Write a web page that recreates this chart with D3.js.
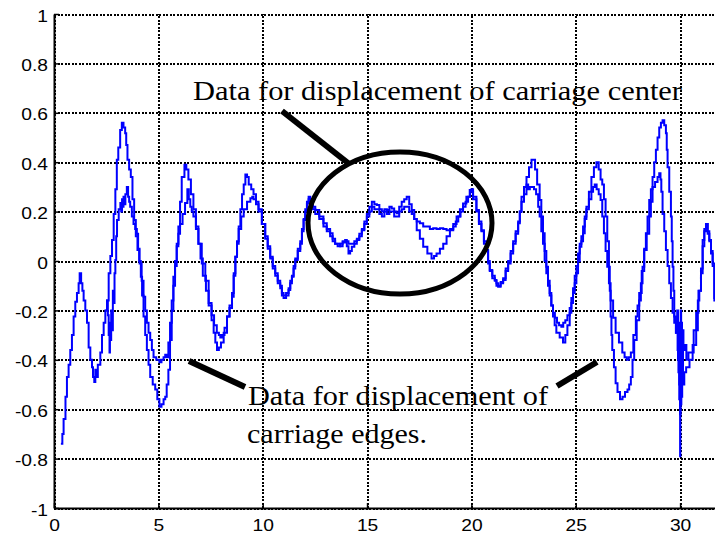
<!DOCTYPE html>
<html><head><meta charset="utf-8">
<script src="https://cdn.jsdelivr.net/npm/d3@7"></script>
<style>
html,body{margin:0;padding:0;background:#fff;}
svg{display:block;}
</style></head>
<body>
<svg id="chart" width="715" height="535"></svg>
<script>
// ---------- data ----------
const xTicks = [0, 5, 10, 15, 20, 25, 30];
const xTickLabels = ["0", "5", "10", "15", "20", "25", "30"];
const yTicks = [-1, -0.8, -0.6, -0.4, -0.2, 0, 0.2, 0.4, 0.6, 0.8, 1];
const yTickLabels = ["-1", "-0.8", "-0.6", "-0.4", "-0.2", "0", "0.2", "0.4", "0.6", "0.8", "1"];

// outer trace (larger amplitude edge data)
const outerX = [0.33,0.40,0.46,0.55,0.62,0.70,0.78,0.86,0.94,1.02,1.10,1.18,1.23,1.30,1.36,1.42,1.50,1.58,1.66,1.74,1.82,1.87,1.93,1.98,2.04,2.10,2.22,2.30,2.38,2.46,2.54,2.62,2.70,2.78,2.86,2.94,3.01,3.08,3.17,3.25,3.33,3.41,3.46,3.52,3.60,3.68,3.76,3.84,3.92,4.00,4.08,4.16,4.22,4.29,4.37,4.45,4.53,4.61,4.73,4.85,4.95,5.05,5.15,5.25,5.33,5.40,5.48,5.56,5.64,5.72,5.80,5.88,5.96,6.04,6.12,6.25,6.34,6.44,6.56,6.68,6.80,6.92,7.08,7.25,7.41,7.55,7.65,7.73,7.81,7.90,8.00,8.13,8.29,8.41,8.53,8.61,8.69,8.77,8.85,8.93,9.01,9.09,9.17,9.25,9.33,9.45,9.56,9.68,9.80,9.96,10.12,10.24,10.36,10.48,10.60,10.72,10.84,10.92,11.00,11.12,11.24,11.32,11.40,11.48,11.56,11.68,11.80,11.88,11.96,12.04,12.12,12.20,12.28,12.40,12.52,12.71,12.91,13.07,13.23,13.35,13.47,13.59,13.71,13.83,13.95,14.03,14.11,14.19,14.27,14.39,14.51,14.63,14.75,14.87,14.99,15.11,15.23,15.35,15.47,15.59,15.71,15.83,15.95,16.07,16.18,16.30,16.42,16.54,16.66,16.78,16.90,17.02,17.14,17.26,17.38,17.53,17.69,17.89,18.09,18.21,18.33,18.49,18.65,18.81,18.97,19.13,19.29,19.45,19.60,19.76,19.92,20.00,20.08,20.24,20.36,20.48,20.60,20.72,20.80,20.88,21.00,21.12,21.20,21.28,21.40,21.52,21.64,21.76,21.88,22.00,22.12,22.24,22.32,22.40,22.52,22.64,22.76,22.88,22.96,23.05,23.15,23.27,23.35,23.43,23.51,23.59,23.67,23.75,23.83,23.91,23.99,24.07,24.23,24.39,24.50,24.60,24.71,24.79,24.87,24.95,25.03,25.11,25.19,25.27,25.35,25.43,25.51,25.63,25.75,25.87,25.99,26.10,26.19,26.27,26.35,26.43,26.51,26.59,26.63,26.67,26.71,26.75,26.83,26.91,27.00,27.12,27.24,27.36,27.48,27.56,27.64,27.72,27.80,27.92,28.04,28.12,28.20,28.28,28.36,28.44,28.52,28.60,28.68,28.76,28.84,28.92,29.00,29.08,29.16,29.24,29.32,29.36,29.40,29.48,29.56,29.60,29.64,29.68,29.72,29.80,29.88,29.92,29.96,29.98,30.00,30.02,30.04,30.06,30.08,30.10,30.14,30.20,30.29,30.45,30.60,30.77,30.85,30.92,31.00,31.08,31.16,31.24,31.32,31.40,31.48,31.56,31.64,31.72];
const outerY = [-0.74,-0.70,-0.64,-0.55,-0.47,-0.42,-0.36,-0.30,-0.225,-0.165,-0.13,-0.09,-0.05,-0.09,-0.12,-0.16,-0.20,-0.25,-0.35,-0.40,-0.43,-0.47,-0.49,-0.44,-0.47,-0.42,-0.37,-0.30,-0.25,-0.20,-0.16,-0.05,0.02,0.085,0.19,0.29,0.41,0.46,0.53,0.56,0.54,0.517,0.47,0.41,0.37,0.34,0.25,0.166,0.10,0.045,0.0,-0.064,-0.14,-0.225,-0.30,-0.36,-0.42,-0.47,-0.50,-0.52,-0.56,-0.59,-0.58,-0.56,-0.55,-0.50,-0.44,-0.32,-0.20,-0.10,-0.02,0.06,0.14,0.24,0.34,0.39,0.37,0.33,0.27,0.21,0.14,0.07,-0.01,-0.08,-0.17,-0.24,-0.29,-0.33,-0.36,-0.35,-0.33,-0.29,-0.225,-0.19,-0.145,-0.06,0.017,0.08,0.14,0.21,0.27,0.31,0.35,0.34,0.31,0.29,0.27,0.24,0.21,0.15,0.10,0.06,0.017,-0.02,-0.05,-0.08,-0.10,-0.13,-0.15,-0.14,-0.117,-0.09,-0.064,-0.03,0.004,0.04,0.07,0.12,0.166,0.20,0.233,0.26,0.25,0.22,0.206,0.18,0.153,0.13,0.112,0.09,0.07,0.06,0.07,0.075,0.085,0.06,0.03,0.04,0.058,0.07,0.085,0.10,0.125,0.16,0.19,0.22,0.24,0.23,0.227,0.21,0.20,0.21,0.206,0.22,0.213,0.20,0.193,0.22,0.24,0.25,0.26,0.23,0.206,0.17,0.125,0.09,0.058,0.03,0.01,0.02,0.03,0.05,0.07,0.10,0.125,0.15,0.18,0.21,0.233,0.26,0.287,0.29,0.26,0.206,0.16,0.125,0.08,0.045,0.0,-0.036,-0.06,-0.077,-0.09,-0.104,-0.09,-0.077,-0.04,-0.01,0.03,0.07,0.11,0.153,0.20,0.26,0.30,0.34,0.38,0.41,0.41,0.37,0.31,0.247,0.18,0.112,0.04,-0.023,-0.08,-0.13,-0.18,-0.225,-0.26,-0.29,-0.31,-0.33,-0.30,-0.26,-0.21,-0.17,-0.13,-0.09,-0.05,0.0,0.058,0.08,0.112,0.17,0.22,0.28,0.34,0.38,0.40,0.37,0.33,0.31,0.25,0.18,0.08,-0.023,-0.12,-0.225,-0.30,-0.36,-0.43,-0.495,-0.53,-0.56,-0.55,-0.53,-0.52,-0.50,-0.47,-0.40,-0.32,-0.24,-0.16,-0.09,-0.023,0.05,0.112,0.18,0.247,0.29,0.34,0.40,0.45,0.50,0.54,0.56,0.57,0.55,0.517,0.45,0.38,0.28,0.18,0.08,-0.023,-0.12,-0.225,-0.29,-0.36,-0.45,-0.56,-0.35,-0.62,-0.30,-0.58,-0.32,-0.55,-0.35,-0.50,-0.45,-0.43,-0.40,-0.34,-0.28,-0.16,-0.12,-0.05,0.085,0.12,0.15,0.12,0.085,0.04,-0.01,-0.16,-0.18];

// inner trace (smaller amplitude edge data)
const innerX = [2.46,2.54,2.58,2.62,2.66,2.68,2.70,2.74,2.78,2.82,2.86,2.90,2.94,2.98,3.02,3.10,3.18,3.22,3.26,3.30,3.33,3.38,3.42,3.49,3.55,3.60,3.65,3.73,3.81,3.89,3.97,4.03,4.10,4.20,4.29,4.37,4.45,4.53,4.61,4.69,4.77,4.90,5.05,5.15,5.25,5.33,5.41,5.48,5.56,5.64,5.72,5.80,5.88,5.96,6.04,6.16,6.28,6.39,6.46,6.53,6.60,6.68,6.80,6.92,7.02,7.13,7.28,7.41,7.55,7.67,7.80,7.90,7.97,8.05,8.17,8.29,8.41,8.53,8.61,8.69,8.77,8.85,8.97,9.09,9.25,9.41,9.50,9.56,9.68,9.80,9.96,10.12,10.24,10.36,10.48,10.60,10.72,10.84,10.92,11.00,11.12,11.24,11.32,11.40,11.48,11.56,11.68,11.80,11.88,11.96,12.04,12.12,12.20,12.28,12.40,12.52,12.71,12.91,13.07,13.23,13.35,13.47,13.59,13.71,13.83,13.95,14.11,14.27,14.39,14.51,14.63,14.75,14.87,14.99,15.11,15.23,15.35,15.47,15.59,15.71,15.83,15.95,16.07,16.18,16.30,16.42,16.54,16.66,16.78,16.90,17.02,17.14,17.26,17.38,17.53,17.69,17.85,18.01,18.17,18.33,18.49,18.65,18.81,18.97,19.13,19.25,19.37,19.48,19.60,19.72,19.84,19.94,20.00,20.08,20.24,20.36,20.48,20.60,20.72,20.80,20.88,21.00,21.12,21.20,21.28,21.40,21.52,21.64,21.76,21.88,22.00,22.12,22.24,22.32,22.40,22.52,22.64,22.72,22.80,22.92,23.00,23.10,23.20,23.27,23.35,23.43,23.51,23.59,23.67,23.75,23.83,23.91,24.00,24.10,24.20,24.31,24.40,24.50,24.60,24.71,24.79,24.87,24.95,25.03,25.11,25.19,25.27,25.35,25.43,25.51,25.63,25.75,25.83,25.91,26.00,26.10,26.19,26.27,26.35,26.43,26.51,26.59,26.67,26.79,26.91,27.07,27.23,27.34,27.44,27.54,27.64,27.76,27.88,27.96,28.04,28.16,28.28,28.40,28.52,28.60,28.68,28.80,28.92,29.00,29.06,29.10,29.16,29.24,29.32,29.40,29.48,29.56,29.64,29.72,29.80,29.86,29.90,29.93,29.96,29.98,30.00,30.01,30.03,30.05,30.07,30.09,30.12,30.16,30.22,30.30,30.40,30.53,30.65,30.77,30.88,31.00,31.08,31.16,31.24,31.32,31.40,31.48,31.56,31.64,31.72];
const innerY = [-0.20,-0.16,-0.22,-0.30,-0.37,-0.25,-0.32,-0.20,-0.28,-0.12,-0.17,-0.05,0.004,0.10,0.166,0.21,0.235,0.20,0.25,0.22,0.26,0.23,0.27,0.30,0.26,0.24,0.22,0.18,0.15,0.13,0.11,0.05,-0.01,-0.08,-0.145,-0.20,-0.25,-0.29,-0.32,-0.36,-0.39,-0.40,-0.41,-0.40,-0.39,-0.38,-0.39,-0.33,-0.25,-0.16,-0.064,0.0,0.07,0.11,0.15,0.19,0.235,0.29,0.25,0.22,0.20,0.18,0.13,0.07,0.01,-0.06,-0.12,-0.18,-0.22,-0.26,-0.29,-0.30,-0.31,-0.30,-0.27,-0.225,-0.18,-0.13,-0.05,0.017,0.07,0.13,0.18,0.21,0.24,0.254,0.26,0.25,0.23,0.20,0.15,0.09,0.05,0.01,-0.03,-0.06,-0.09,-0.11,-0.14,-0.14,-0.13,-0.11,-0.08,-0.06,-0.02,0.01,0.05,0.08,0.13,0.17,0.21,0.24,0.25,0.24,0.21,0.19,0.17,0.14,0.12,0.10,0.08,0.07,0.07,0.06,0.08,0.08,0.07,0.07,0.08,0.09,0.11,0.13,0.15,0.18,0.20,0.22,0.21,0.21,0.19,0.18,0.20,0.19,0.20,0.20,0.18,0.18,0.20,0.21,0.22,0.22,0.20,0.19,0.17,0.16,0.153,0.14,0.14,0.13,0.133,0.13,0.133,0.13,0.125,0.13,0.14,0.16,0.18,0.20,0.22,0.24,0.26,0.28,0.28,0.25,0.20,0.15,0.12,0.07,0.04,-0.01,-0.04,-0.07,-0.08,-0.10,-0.10,-0.085,-0.07,-0.03,0.0,0.04,0.08,0.12,0.16,0.20,0.24,0.27,0.31,0.29,0.30,0.30,0.29,0.27,0.22,0.18,0.12,0.07,0.0,-0.05,-0.10,-0.14,-0.18,-0.21,-0.23,-0.25,-0.26,-0.266,-0.25,-0.24,-0.22,-0.19,-0.15,-0.11,-0.06,-0.02,0.03,0.07,0.10,0.14,0.18,0.21,0.25,0.28,0.30,0.31,0.29,0.27,0.247,0.18,0.112,0.04,-0.023,-0.09,-0.16,-0.23,-0.29,-0.33,-0.37,-0.39,-0.40,-0.39,-0.37,-0.30,-0.225,-0.18,-0.13,-0.04,0.045,0.11,0.18,0.24,0.30,0.32,0.34,0.355,0.33,0.28,0.19,0.12,0.045,-0.02,-0.09,-0.15,-0.21,-0.25,-0.29,-0.20,-0.40,-0.25,-0.50,-0.30,-0.79,-0.40,-0.20,-0.48,-0.25,-0.42,-0.28,-0.36,-0.34,-0.40,-0.37,-0.37,-0.28,-0.21,-0.12,-0.03,0.06,0.13,0.15,0.11,0.08,0.03,-0.02,-0.15,-0.17];

const annotationTop = "Data for displacement of carriage center";
const annotationBottom = ["Data for displacement of", "carriage edges."];

// ---------- drawing ----------
const svg = d3.select("#chart");
const X0 = 54, X1 = 716, Y0 = 14, Y1 = 508;
const x = d3.scaleLinear().domain([0, 31.72]).range([X0, X1]);
const y = d3.scaleLinear().domain([-1, 1]).range([Y1, Y0]);
const STRETCH = 1.2;

svg.append("defs").append("clipPath").attr("id", "plotclip")
  .append("rect").attr("x", X0).attr("y", Y0 - 2).attr("width", X1 - X0).attr("height", Y1 - Y0 + 4);

// grid
const gridY = svg.append("g").attr("transform", `translate(${X0},0)`)
  .call(d3.axisLeft(y).tickValues(yTicks).tickSize(-(X1 - X0)).tickFormat(""));
const gridX = svg.append("g").attr("transform", `translate(0,${Y1})`)
  .call(d3.axisBottom(x).tickValues(xTicks).tickSize(-(Y1 - Y0)).tickFormat(""));
[gridY, gridX].forEach(g => {
  g.select(".domain").remove();
  g.selectAll(".tick line").attr("stroke", "#000").attr("stroke-width", 2)
    .attr("stroke-dasharray", "2,1.5").attr("shape-rendering", "crispEdges");
});

// data lines
const plot = svg.append("g").attr("clip-path", "url(#plotclip)");
const line = d3.line().x(d => x(d[0])).y(d => y(d[1])).curve(d3.curveStepAfter);
const outerPts = outerX.map((v, i) => [v, outerY[i]]);
const innerPts = innerX.map((v, i) => [v, innerY[i]]);
[outerPts, innerPts].forEach(pts => {
  plot.append("path").datum(pts).attr("d", line)
    .attr("fill", "none").attr("stroke", "#0000ff").attr("stroke-width", 2)
    .attr("stroke-linejoin", "miter");
});

// axes
const axL = svg.append("g").attr("transform", `translate(${X0},0)`)
  .call(d3.axisLeft(y).tickValues(yTicks).tickSize(0).tickPadding(0)
    .tickFormat((d, i) => yTickLabels[i]));
const axB = svg.append("g").attr("transform", `translate(0,${Y1})`)
  .call(d3.axisBottom(x).tickValues(xTicks).tickSize(0).tickPadding(0)
    .tickFormat((d, i) => xTickLabels[i]));
[axL, axB].forEach(g => {
  g.select(".domain").attr("stroke", "#000").attr("stroke-width", 2);
  g.selectAll("text").attr("font-family", "'Liberation Sans', Arial, sans-serif")
    .attr("font-size", 16).attr("fill", "#000");
});
axL.selectAll(".tick text").each(function () {
  const t = d3.select(this);
  const w = this.getComputedTextLength() * STRETCH;
  t.attr("text-anchor", "start").attr("dy", null).attr("x", -6 - w).attr("y", 7)
    .attr("textLength", w).attr("lengthAdjust", "spacingAndGlyphs");
});
axB.selectAll(".tick text").each(function () {
  const t = d3.select(this);
  const w = this.getComputedTextLength() * STRETCH;
  t.attr("text-anchor", "start").attr("dy", null).attr("x", -w / 2).attr("y", 23)
    .attr("textLength", w).attr("lengthAdjust", "spacingAndGlyphs");
});
// inward tick marks
axL.selectAll(".tick").append("line").attr("x1", 0).attr("x2", 5).attr("stroke", "#000").attr("stroke-width", 1.5);
axB.selectAll(".tick").append("line").attr("y1", 0).attr("y2", -5).attr("stroke", "#000").attr("stroke-width", 1.5);

// annotations
const ann = svg.append("g");
ann.append("ellipse").attr("cx", 400).attr("cy", 223).attr("rx", 92).attr("ry", 71)
  .attr("fill", "none").attr("stroke", "#000").attr("stroke-width", 5);
const pointers = [[282, 111, 348, 163], [189, 361, 245, 387], [557, 386, 597, 362]];
pointers.forEach(p => ann.append("line").attr("x1", p[0]).attr("y1", p[1]).attr("x2", p[2]).attr("y2", p[3])
  .attr("stroke", "#000").attr("stroke-width", 6));
const serif = "'Liberation Serif', 'Times New Roman', serif";
ann.append("text").attr("x", 193).attr("y", 100).attr("font-family", serif).attr("font-size", 27)
  .attr("textLength", 489).attr("lengthAdjust", "spacingAndGlyphs").text(annotationTop);
ann.append("text").attr("x", 248).attr("y", 405).attr("font-family", serif).attr("font-size", 27)
  .attr("textLength", 300).attr("lengthAdjust", "spacingAndGlyphs").text(annotationBottom[0]);
ann.append("text").attr("x", 247).attr("y", 443).attr("font-family", serif).attr("font-size", 27)
  .attr("textLength", 180).attr("lengthAdjust", "spacingAndGlyphs").text(annotationBottom[1]);
</script>
</body></html>
